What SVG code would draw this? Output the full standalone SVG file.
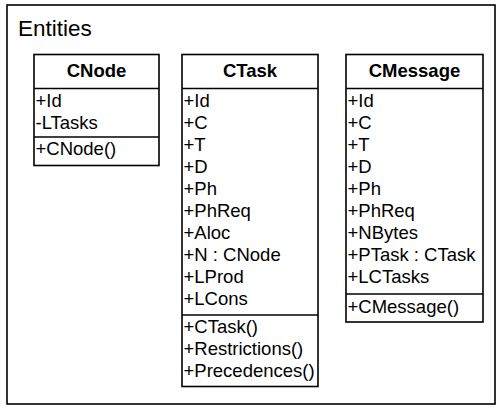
<svg xmlns="http://www.w3.org/2000/svg" width="501" height="410" viewBox="0 0 501 410">
<style>
.frame{fill:#fff;stroke:#000;stroke-width:1.6}
.box{fill:#fff;stroke:#000;stroke-width:1.6}
.sep{stroke:#000;stroke-width:1.6}
text{font-family:"Liberation Sans",Arial,sans-serif;fill:#000}
.t{font-size:18.5px;font-weight:bold;text-anchor:middle}
.r{font-size:18.5px}
.pkg{font-size:22.5px}
</style>
<rect width="501" height="410" fill="#fff"/>
<g id="entities">
<rect class="frame" x="7" y="5" width="488" height="399"/>
<text class="pkg" x="18" y="36">Entities</text>
</g>
<g id="cnode">
<rect class="box" x="34" y="54.5" width="125" height="111"/>
<line class="sep" x1="34" y1="88.5" x2="159" y2="88.5"/>
<line class="sep" x1="34" y1="137" x2="159" y2="137"/>
<text class="t" x="96.5" y="77">CNode</text>
<text class="r" x="35.5" y="107">+Id</text>
<text class="r" x="35.5" y="129">-LTasks</text>
<text class="r" x="35.5" y="155">+CNode()</text>
</g>
<g id="ctask">
<rect class="box" x="182" y="54.5" width="136" height="332"/>
<line class="sep" x1="182" y1="88.5" x2="318" y2="88.5"/>
<line class="sep" x1="182" y1="315" x2="318" y2="315"/>
<text class="t" x="250" y="77">CTask</text>
<text class="r" x="183.5" y="107">+Id</text>
<text class="r" x="183.5" y="129">+C</text>
<text class="r" x="183.5" y="151">+T</text>
<text class="r" x="183.5" y="173">+D</text>
<text class="r" x="183.5" y="195">+Ph</text>
<text class="r" x="183.5" y="217">+PhReq</text>
<text class="r" x="183.5" y="239">+Aloc</text>
<text class="r" x="183.5" y="261">+N : CNode</text>
<text class="r" x="183.5" y="283">+LProd</text>
<text class="r" x="183.5" y="305">+LCons</text>
<text class="r" x="183.5" y="333">+CTask()</text>
<text class="r" x="183.5" y="355">+Restrictions()</text>
<text class="r" x="183.5" y="377">+Precedences()</text>
</g>
<g id="cmessage">
<rect class="box" x="346" y="54.5" width="137" height="267.5"/>
<line class="sep" x1="346" y1="88.5" x2="483" y2="88.5"/>
<line class="sep" x1="346" y1="294" x2="483" y2="294"/>
<text class="t" x="414.5" y="77">CMessage</text>
<text class="r" x="347.5" y="107">+Id</text>
<text class="r" x="347.5" y="129">+C</text>
<text class="r" x="347.5" y="151">+T</text>
<text class="r" x="347.5" y="173">+D</text>
<text class="r" x="347.5" y="195">+Ph</text>
<text class="r" x="347.5" y="217">+PhReq</text>
<text class="r" x="347.5" y="239">+NBytes</text>
<text class="r" x="347.5" y="261">+PTask : CTask</text>
<text class="r" x="347.5" y="283">+LCTasks</text>
<text class="r" x="347.5" y="313">+CMessage()</text>
</g>
<g id="connectors"></g>
</svg>
